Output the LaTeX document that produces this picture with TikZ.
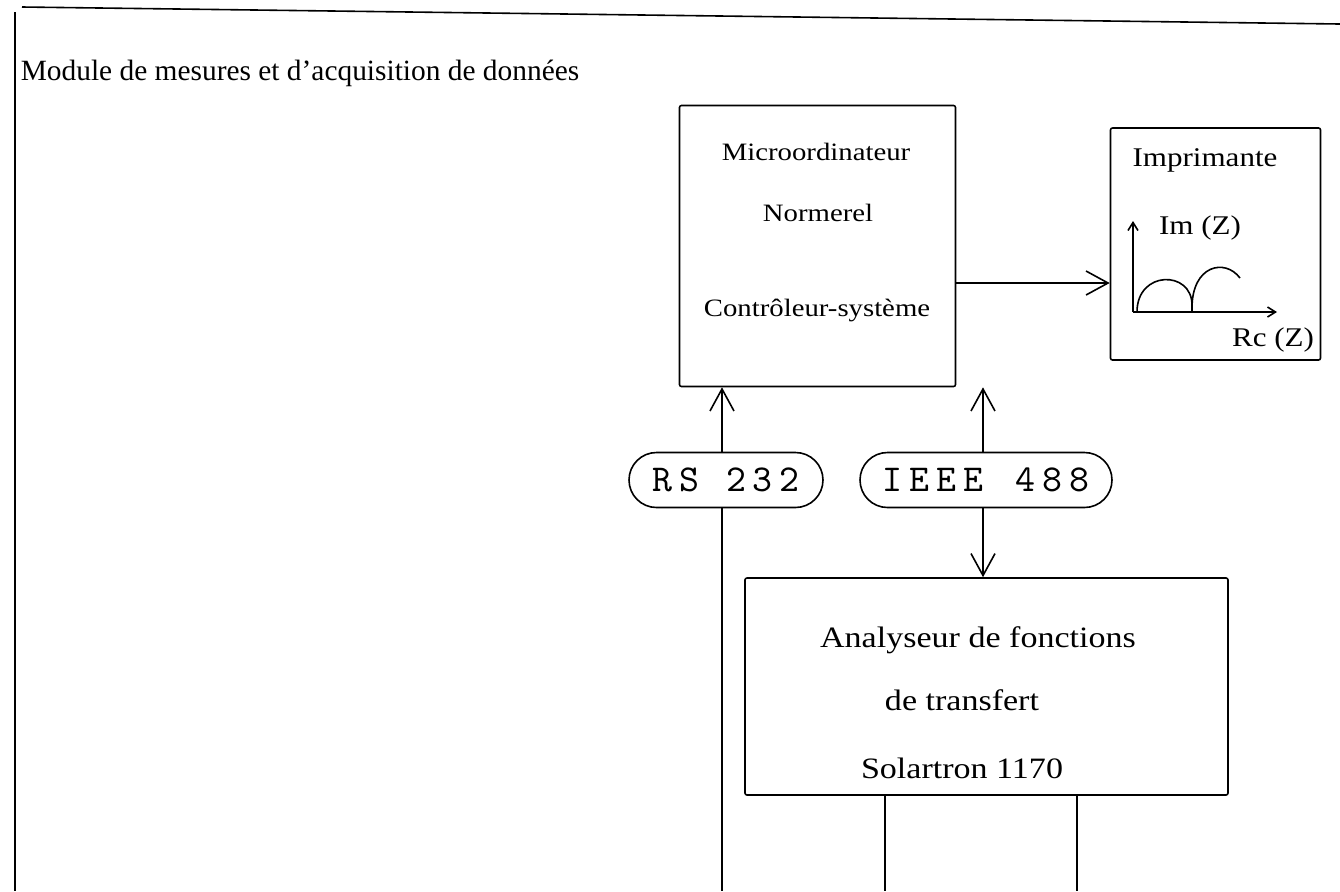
\documentclass[tikz,border=0pt]{standalone}
\usepackage{fontspec}
\setmainfont{Liberation Serif}
\newfontfamily\widefont[FakeStretch=1.15]{Liberation Serif}
\newfontfamily\pillfont[LetterSpace=18]{lmmono10-regular.otf}
\usetikzlibrary{arrows.meta,shapes.misc}
\begin{document}
\begin{tikzpicture}[x=0.5pt,y=-0.5pt, line width=0.8pt,
 box/.style={draw, rectangle, inner sep=0pt, rounded corners=1pt},
 pill/.style={draw, rounded rectangle, inner sep=0pt, minimum height=27.5pt,
   font=\fontsize{19}{22}\pillfont},
 txt/.style={inner sep=0pt, font=\fontsize{12.5}{15}\widefont},
 itxt/.style={inner sep=0pt, font=\fontsize{13.5}{16}\widefont},
 atxt/.style={inner sep=0pt, font=\fontsize{14.8}{18}\widefont},
 big/.style={-{Straight Barb[length=11pt,width=12pt]}},
 small/.style={-{Straight Barb[length=4pt,width=5pt]}}
]
\useasboundingbox (0,0) rectangle (1340,891);
% frame
\draw (22,7) -- (1340,24);
\draw (15,12) -- (15,891);
\node[anchor=base west, inner sep=0pt, font=\fontsize{14.7}{17}\selectfont] (title) at (20,80)
  {Module de mesures et d'acquisition de données};
% boxes
\node[box, minimum width=138pt, minimum height=140.5pt] (micro) at (817.5,246) {};
\node[box, minimum width=105pt, minimum height=116pt] (imp) at (1215.5,244) {};
\node[pill, minimum width=97pt] (rs) at (726,480) {RS 232};
\node[pill, minimum width=126pt] (ieee) at (986,480) {IEEE\hspace{3pt} 488};
\node[box, minimum width=241.5pt, minimum height=108.5pt] (ana) at (986.5,686.5) {};
% texts
\node[txt] (t1) at (816,152) {Microordinateur};
\node[txt] (t2) at (818,213) {Normerel};
\node[txt] (t3) at (817,310) {Contrôleur-système};
\node[itxt] (t4) at (1205,160) {Imprimante};
\node[itxt] (t5) at (1200,228) {Im (Z)};
\node[itxt] (t6) at (1273,340) {Rc (Z)};
\node[atxt] (t7) at (978,640) {Analyseur de fonctions};
\node[atxt] (t8) at (962,700) {de transfert};
\node[atxt] (t9) at (962,768) {Solartron 1170};
% helper coordinates
\coordinate (rsx) at (722,0);
\coordinate (iex) at (983,0);
\coordinate (a1) at (885,0);
\coordinate (a2) at (1077,0);
\coordinate (arr) at (0,283);
\coordinate (bot) at (0,891);
% connectors
\draw[big] (rsx |- rs.north) -- (rsx |- micro.south);
\draw (rsx |- rs.south) -- (rsx |- bot);
\draw[big] (iex |- ieee.north) -- (iex |- micro.south);
\draw[big] (iex |- ieee.south) -- (iex |- ana.north);
\draw[big] (micro.east |- arr) -- (imp.west |- arr);
\draw (a1 |- ana.south) -- (a1 |- bot);
\draw (a2 |- ana.south) -- (a2 |- bot);
% Nyquist sketch
\coordinate (o) at (1133,312);
\coordinate (ytip) at (1133,221);
\coordinate (xtip) at (1277,312);
\draw[small] (o) -- (ytip);
\draw[small] (o) -- (xtip);
\draw (1137,312) .. controls (1137,270) and (1192,270) .. (1192,305) -- (1192,312);
\draw (1192,308) .. controls (1192,265) and (1225,258) .. (1240,278);
\end{tikzpicture}
\end{document}
